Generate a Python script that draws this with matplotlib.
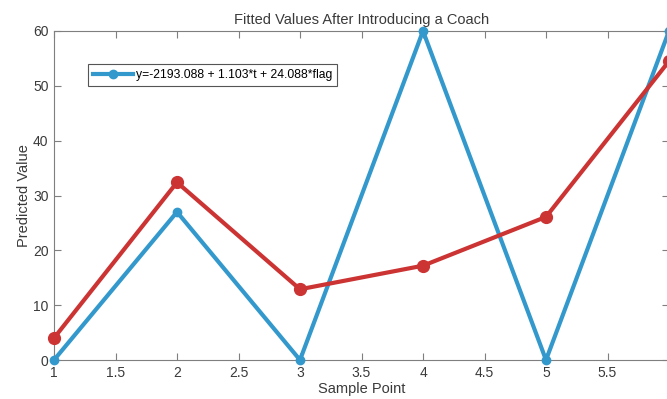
import matplotlib.pyplot as plt

plt.rcParams['font.family'] = ['Liberation Sans', 'DejaVu Sans']

sample_point = [1, 2, 3, 4, 5, 6]
fitted_flag = [0, 27, 0, 60, 0, 60]
fitted_trend = [4, 32.4, 12.9, 17.2, 26.1, 54.5]
legend_label = 'y=-2193.088 + 1.103*t + 24.088*flag'

x_ticks = [1, 1.5, 2, 2.5, 3, 3.5, 4, 4.5, 5, 5.5, 6]
x_tick_labels = ['1', '1.5', '2', '2.5', '3', '3.5', '4', '4.5', '5', '5.5', '']
y_ticks = [0, 10, 20, 30, 40, 50, 60]

blue = '#3399cc'
red = '#cc3333'
grey = '#7f7f7f'
text_col = '#3a3a3a'

fig = plt.figure(figsize=(6.67, 3.99), dpi=100)
# axes run slightly past the right edge of the canvas
ax = fig.add_axes([54 / 667, 39 / 399, 615 / 667, 329 / 399])

ax.plot(sample_point, fitted_flag, color=blue, lw=3, marker='o', ms=6,
        label=legend_label, zorder=3, clip_on=False)
ax.plot(sample_point, fitted_trend, color=red, lw=3, marker='o', ms=8.5,
        zorder=4, clip_on=False)

ax.set_xlim(1, 6)
ax.set_ylim(0, 60)
ax.set_xticks(x_ticks, x_tick_labels)
ax.set_yticks(y_ticks)
ax.tick_params(direction='in', top=True, right=True, length=5, width=0.8,
               color=grey, labelcolor=text_col, labelsize=10, pad=4)
for s in ax.spines.values():
    s.set_color(grey)
    s.set_linewidth(0.8)

ax.set_title('Fitted Values After Introducing a Coach', fontsize=10.5,
             color=text_col, pad=5)
ax.set_xlabel('Sample Point', fontsize=10.5, color=text_col, labelpad=2)
ax.set_ylabel('Predicted Value', fontsize=10.5, color=text_col, labelpad=1)

leg = ax.legend(loc='upper left', bbox_to_anchor=(0.055, 0.9), fontsize=8.7,
                handlelength=3.3, handletextpad=0.3, borderpad=0.4,
                borderaxespad=0, fancybox=False, framealpha=1,
                edgecolor='#555555')
leg.get_frame().set_linewidth(0.8)

fig.savefig('out.png', dpi=100)
